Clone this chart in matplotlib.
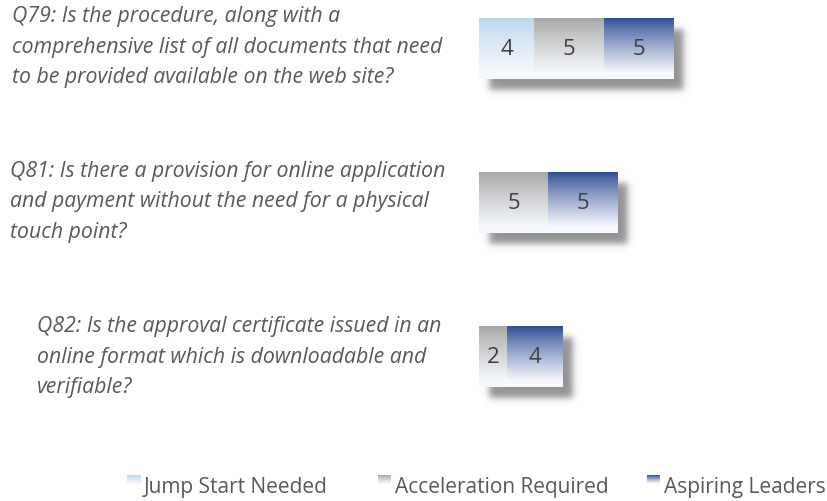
import numpy as np
import matplotlib
matplotlib.use("Agg")
import matplotlib.pyplot as plt
from matplotlib.colors import to_rgb

# ---------------- data ----------------
questions = [
    "Q79: Is the procedure, along with a\ncomprehensive list of all documents that need\nto be provided available on the web site?",
    "Q81: Is there a provision for online application\nand payment without the need for a physical\ntouch point?",
    "Q82: Is the approval certificate issued in an\nonline format which is downloadable and\nverifiable?",
]
series_names = ["Jump Start Needed", "Acceleration Required", "Aspiring Leaders"]
jump_start = [4, 0, 0]
acceleration = [5, 5, 2]
aspiring = [5, 5, 4]
series_values = [jump_start, acceleration, aspiring]
series_top_colors = ["#bcd6ee", "#a6a6a6", "#2d4c94"]
bottom_color = "#f5f8fc"

# ---------------- layout ----------------
W, H = 827, 502
fig = plt.figure(figsize=(W / 100, H / 100), dpi=100)
fig.patch.set_facecolor("white")

px_per_unit_x = 13.87
px_per_unit_y = 154.0
x0_px = 479
top_px, bottom_px = 0, 450
first_center_px = 49.5
ax_w_px = W - x0_px
ax = fig.add_axes([x0_px / W, 1 - bottom_px / H, ax_w_px / W, (bottom_px - top_px) / H])
ax.set_axis_off()
xlim = (0, ax_w_px / px_per_unit_x)
ylim = ((bottom_px - first_center_px) / px_per_unit_y, (top_px - first_center_px) / px_per_unit_y)

bar_h = 0.395
font = "Open Sans"

def gradient_img(top_hex, n=128):
    t = np.linspace(0, 1, n)
    t = np.clip(t / 0.9, 0, 1) ** 0.85
    top = np.array(to_rgb(top_hex))
    bot = np.array(to_rgb(bottom_color))
    rows = top[None, :] * (1 - t[:, None]) + bot[None, :] * t[:, None]
    return rows[:, None, :]

# shadows
sdx = 10 / px_per_unit_x
sdy = 11 / px_per_unit_y
blur_x = 4.0 / px_per_unit_x
blur_y = 4.0 / px_per_unit_y
for i in range(len(questions)):
    total = sum(s[i] for s in series_values)
    xa, xb = sdx, total + sdx
    ya, yb = i - bar_h / 2 + sdy, i + bar_h / 2 + sdy
    ex0, ex1 = xa - 4 * blur_x, xb + 4 * blur_x
    ey0, ey1 = ya - 4 * blur_y, yb + 4 * blur_y
    xs = np.linspace(ex0, ex1, 200)
    ys = np.linspace(ey0, ey1, 120)
    fx = 0.5 * (np.tanh((xs - xa) / blur_x) - np.tanh((xs - xb) / blur_x))
    fy = 0.5 * (np.tanh((ys - ya) / blur_y) - np.tanh((ys - yb) / blur_y))
    a = fy[:, None] * fx[None, :]
    img = np.zeros((len(ys), len(xs), 4))
    img[..., :3] = 0.5
    img[..., 3] = a * 0.85
    ax.imshow(img, extent=(ex0, ex1, ey1, ey0), origin="upper", aspect="auto",
              interpolation="bilinear", zorder=1)

# bars
for i in range(len(questions)):
    left = 0
    for s, vals in enumerate(series_values):
        v = vals[i]
        if v <= 0:
            continue
        ax.imshow(gradient_img(series_top_colors[s]),
                  extent=(left, left + v, i + bar_h / 2, i - bar_h / 2),
                  origin="upper", aspect="auto", interpolation="bilinear", zorder=2)
        ax.text(left + v / 2, i, str(v), ha="center", va="center", fontsize=16,
                color="#404040", family=font, zorder=3)
        left += v

ax.set_xlim(*xlim)
ax.set_ylim(*ylim)

# question labels
label_x_px = [12, 10, 37]
label_center_px = [47, 202, 357]
for q, lx, ly in zip(questions, label_x_px, label_center_px):
    fig.text(lx / W, 1 - ly / H, q, ha="left", va="center", fontsize=15.3,
             style="italic", color="#595959", family=font, linespacing=1.62)

# legend
leg_marker_x = [127, 378, 647]
marker_top_px = 476
text_center_px = 488
for name, col, mx in zip(series_names, series_top_colors, leg_marker_x):
    lax = fig.add_axes([mx / W, 1 - (marker_top_px + 9) / H, 13 / W, 9 / H])
    lax.imshow(gradient_img(col), aspect="auto", extent=(0, 1, 0, 1), interpolation="bilinear")
    lax.set_axis_off()
    fig.text((mx + 17) / W, 1 - text_center_px / H, name, ha="left", va="center",
             fontsize=15.0, color="#595959", family=font)

fig.savefig("out.png", dpi=100, facecolor="white")
